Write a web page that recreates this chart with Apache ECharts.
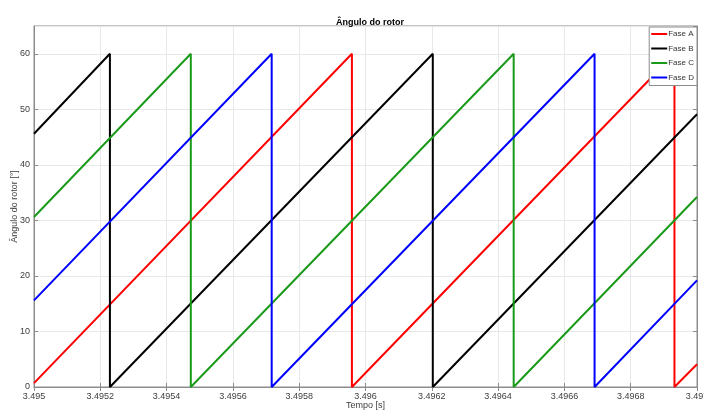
<!DOCTYPE html>
<html>
<head>
<meta charset="utf-8">
<script src="https://cdn.jsdelivr.net/npm/echarts@6/dist/echarts.min.js"></script>
<style>
html,body{margin:0;padding:0;background:#fff;}
#chart{width:704px;height:410px;}
</style>
</head>
<body>
<div id="chart"></div>
<script>
var seriesNames = ['Fase A', 'Fase B', 'Fase C', 'Fase D'];
var faseA_t = [3.495, 3.495959, 3.495959, 3.496932, 3.496932, 3.497];
var faseA_v = [0.7, 60, 0, 60, 0, 4.1];
var faseB_t = [3.495, 3.495229, 3.495229, 3.496203, 3.496203, 3.497];
var faseB_v = [45.6, 60, 0, 60, 0, 49.1];
var faseC_t = [3.495, 3.495473, 3.495473, 3.496447, 3.496447, 3.497];
var faseC_v = [30.6, 60, 0, 60, 0, 34.2];
var faseD_t = [3.495, 3.495717, 3.495717, 3.496691, 3.496691, 3.497];
var faseD_v = [15.6, 60, 0, 60, 0, 19.2];
var xTicks = ['3.495','3.4952','3.4954','3.4956','3.4958','3.496','3.4962','3.4964','3.4966','3.4968','3.497'];
var colors = ['#ff0000', '#000000', '#1a9a1a', '#0000ff'];

function pairs(t, v) { return t.map(function (x, i) { return [x, v[i]]; }); }
var allT = [faseA_t, faseB_t, faseC_t, faseD_t];
var allV = [faseA_v, faseB_v, faseC_v, faseD_v];

var font = 'Liberation Sans, Arial, sans-serif';
var chart = echarts.init(document.getElementById('chart'), null, {renderer: 'canvas'});
var axisLineStyle = {color: '#8c8c8c', width: 1};
chart.setOption({
  backgroundColor: '#fff',
  animation: false,
  title: {
    text: 'Ângulo do rotor', left: 365, top: 13, textAlign: 'center',
    textStyle: {fontFamily: font, fontSize: 9, fontWeight: 'bold', color: '#000'}
  },
  legend: {
    orient: 'vertical', right: 7, top: 27,
    data: seriesNames,
    itemWidth: 16, itemHeight: 2, itemGap: 4.5,
    backgroundColor: '#fff', borderColor: '#8c8c8c', borderWidth: 1,
    padding: [2, 3, 3, 2],
    icon: 'rect',
    textStyle: {fontFamily: font, fontSize: 8, color: '#333', lineHeight: 10, padding: [0,0,0,-4]}
  },
  grid: {left: 34, right: 7, top: 26, bottom: 23, containLabel: false, outerBoundsMode: 'none',
    show: true, borderColor: '#8c8c8c', borderWidth: 1, backgroundColor: '#fff'},
  xAxis: [{
    type: 'value', min: 3.495, max: 3.497, interval: 0.0002,
    name: 'Tempo [s]', nameLocation: 'middle', nameGap: 14, nameMoveOverlap: false,
    nameTextStyle: {fontFamily: font, fontSize: 9, color: '#404040', verticalAlign: 'top'},
    axisLine: {show: true, lineStyle: axisLineStyle},
    axisTick: {show: true, inside: true, length: 4, lineStyle: axisLineStyle},
    axisLabel: {fontFamily: font, fontSize: 9, color: '#404040', margin: 5,
      formatter: function (v) { return String(parseFloat(v.toFixed(4))); }},
    splitLine: {show: true, lineStyle: {color: '#e8e8e8', width: 1}}
  }, {
    type: 'value', position: 'top', min: 3.495, max: 3.497, interval: 0.0002,
    axisLine: {show: true, lineStyle: axisLineStyle},
    axisTick: {show: true, inside: true, length: 4, lineStyle: axisLineStyle},
    axisLabel: {show: false}, splitLine: {show: false}
  }],
  yAxis: [{
    type: 'value', min: 0, max: 65, interval: 10,
    name: 'Ângulo do rotor [°]', nameLocation: 'middle', nameGap: 15, nameRotate: 90, nameMoveOverlap: false,
    nameTextStyle: {fontFamily: font, fontSize: 9, color: '#404040', verticalAlign: 'bottom'},
    axisLine: {show: true, lineStyle: axisLineStyle},
    axisTick: {show: true, inside: true, length: 4, lineStyle: axisLineStyle},
    axisLabel: {fontFamily: font, fontSize: 9, color: '#404040', margin: 4,
      showMaxLabel: false},
    splitLine: {show: true, lineStyle: {color: '#e8e8e8', width: 1}}
  }, {
    type: 'value', position: 'right', min: 0, max: 65, interval: 10,
    axisLine: {show: true, lineStyle: axisLineStyle},
    axisTick: {show: true, inside: true, length: 4, lineStyle: axisLineStyle},
    axisLabel: {show: false}, splitLine: {show: false}
  }],
  series: seriesNames.map(function (n, i) {
    return {
      name: n, type: 'line', data: pairs(allT[i], allV[i]),
      showSymbol: false, symbol: 'none',
      lineStyle: {color: colors[i], width: 2},
      itemStyle: {color: colors[i]},
      xAxisIndex: 0, yAxisIndex: 0, z: 3
    };
  })
});
</script>
</body>
</html>
